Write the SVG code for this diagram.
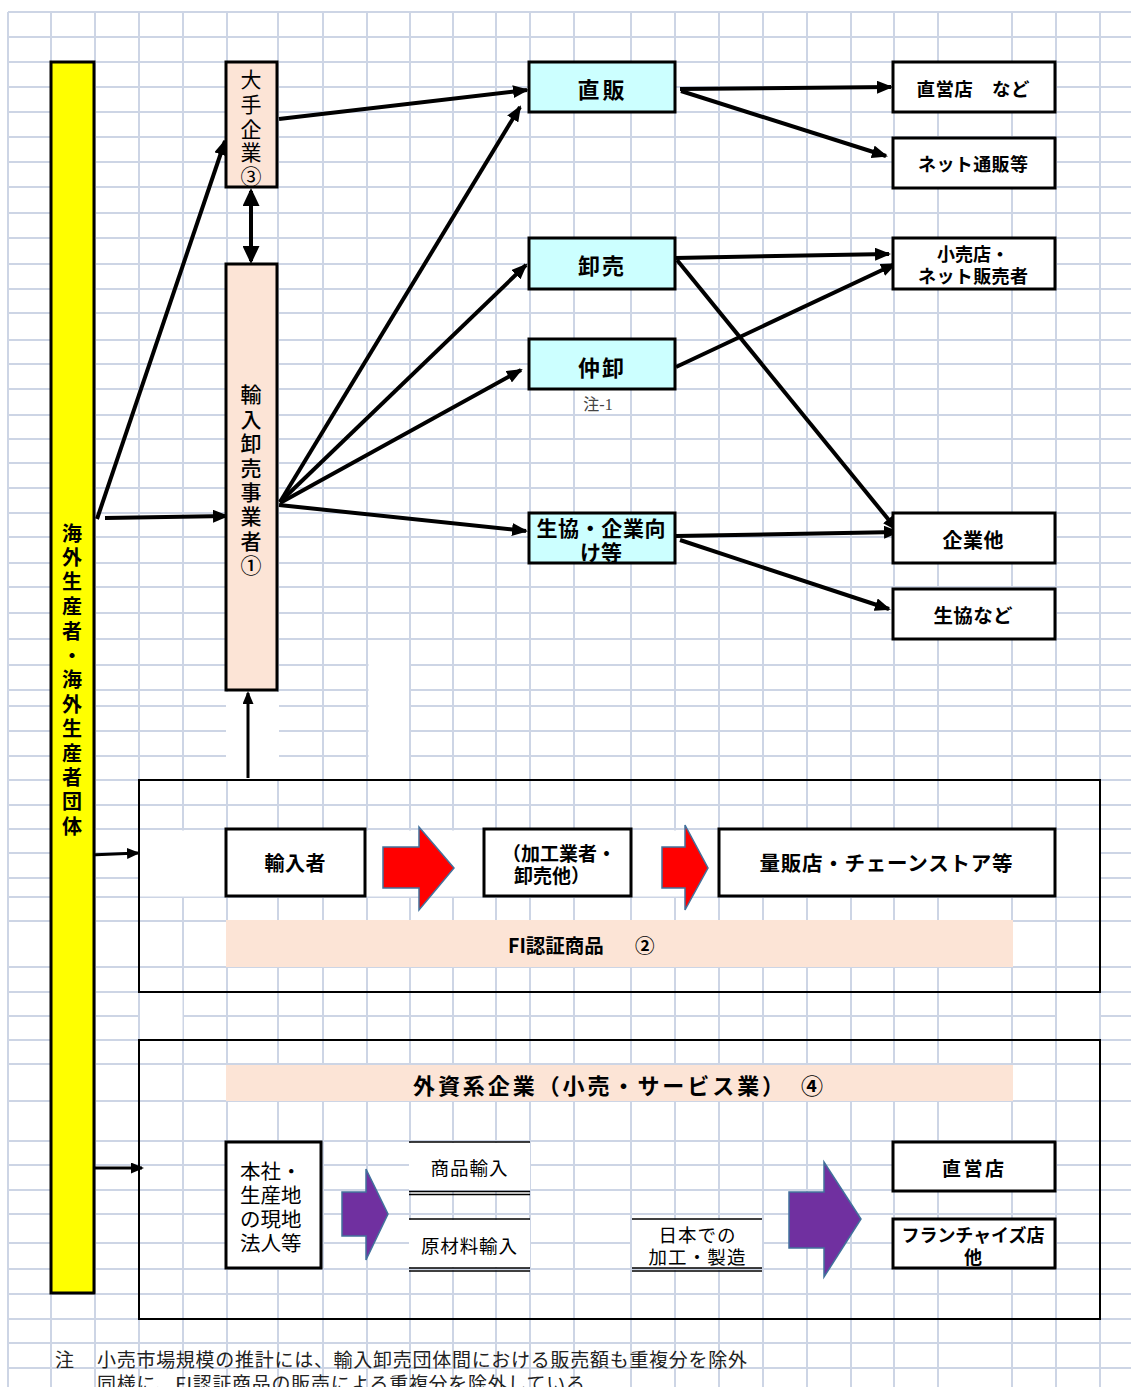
<svg xmlns="http://www.w3.org/2000/svg" width="1131" height="1387" viewBox="0 0 1131 1387">
<defs>
<style>
.grid{stroke:#CDD5E5;stroke-width:2;fill:none}
.box{fill:#fff;stroke:#000;stroke-width:3}
.peach{fill:#FCE4D6;stroke:#000;stroke-width:3}
.cyan{fill:#CCFFFF;stroke:#000;stroke-width:3}
.frame{fill:none;stroke:#000;stroke-width:2}
.band{fill:#FCE4D6;stroke:none}
.t{font-family:"Noto Sans CJK JP","Noto Sans",sans-serif;fill:#000;dominant-baseline:central}
.b{font-weight:700}
.c{text-anchor:middle}
.conn{stroke:#000;stroke-width:4;fill:none}
.conn3{stroke:#000;stroke-width:3;fill:none}
.red{fill:#FF0000;stroke:#41719C;stroke-width:1.5}
.pur{fill:#7030A0;stroke:#41719C;stroke-width:1.5}
.ul{stroke:#000;stroke-width:1.5}
</style>
<marker id="ah" viewBox="0 0 16 13" refX="14" refY="6.5" markerWidth="16" markerHeight="13" markerUnits="userSpaceOnUse" orient="auto-start-reverse"><path d="M0,0 L16,6.5 L0,13 z" fill="#000"/></marker>
<marker id="ahb" viewBox="0 0 18 17" refX="15" refY="8.5" markerWidth="18" markerHeight="17" markerUnits="userSpaceOnUse" orient="auto-start-reverse"><path d="M0,0 L18,8.5 L0,17 z" fill="#000"/></marker>
<marker id="ahs" viewBox="0 0 13 11" refX="11" refY="5.5" markerWidth="13" markerHeight="11" markerUnits="userSpaceOnUse" orient="auto"><path d="M0,0 L13,5.5 L0,11 z" fill="#000"/></marker>
</defs>
<rect x="0" y="0" width="1131" height="1387" fill="#fff"/>
<g id="grid">
<path class="grid" d="M8 12V1387M51 12V1387M95 12V1387M139 12V1387M183 12V1387M227 12V1387M278 12V1387M323 12V1387M367 12V1387M410 12V1387M453 12V1387M496 12V1387M530 12V1387M574 12V1387M631 12V1387M675 12V1387M719 12V1387M763 12V1387M807 12V1387M851 12V1387M894 12V1387M938 12V1387M1012 12V1387M1056 12V1387M1100 12V1387"/>
<path class="grid" d="M8 12H1131M8 37H1131M8 62H1131M8 87H1131M8 112H1131M8 137H1131M8 162H1131M8 187H1131M8 213H1131M8 238H1131M8 264H1131M8 289H1131M8 313H1131M8 340H1131M8 364H1131M8 389H1131M8 415H1131M8 439H1131M8 463H1131M8 488H1131M8 513H1131M8 537H1131M8 563H1131M8 587H1131M8 613H1131M8 639H1131M8 665H1131M8 690H1131M8 706H1131M8 731H1131M8 756H1131M8 780H1131M8 805H1131M8 829H1131M8 853H1131M8 878H1131M8 897H1131M8 921H1131M8 967H1131M8 992H1131M8 1016H1131M8 1040H1131M8 1064H1131M8 1101H1131M8 1141H1131M8 1165H1131M8 1190H1131M8 1214H1131M8 1243H1131M8 1269H1131M8 1294H1131M8 1319H1131M8 1343H1131M8 1368H1131"/>
<g fill="#fff">
<rect x="368.5" y="660" width="40.5" height="119"/>
<rect x="226" y="692" width="53" height="87"/>
<rect x="140" y="830.5" width="959" height="66"/>
<rect x="140" y="993" width="42.5" height="46"/>
<rect x="1057" y="993" width="42" height="46"/>
<rect x="409" y="1143" width="121" height="47"/>
<rect x="409" y="1220" width="121" height="47"/>
<rect x="632" y="1220" width="130" height="47"/>
</g>
</g>

<g id="connectors">
<line class="conn" x1="97" y1="519" x2="225" y2="141" marker-end="url(#ah)"/>
<line class="conn" x1="105" y1="518" x2="227" y2="516" marker-end="url(#ah)"/>
<line class="conn" x1="251" y1="191" x2="251" y2="261" stroke-width="5" marker-start="url(#ahb)" marker-end="url(#ahb)"/>
<line class="conn" x1="279" y1="119" x2="527" y2="90" marker-end="url(#ah)"/>
<line class="conn" x1="280" y1="502" x2="520" y2="107" marker-end="url(#ah)"/>
<line class="conn" x1="280" y1="502" x2="526" y2="265" marker-end="url(#ah)"/>
<line class="conn" x1="280" y1="503" x2="521" y2="370" marker-end="url(#ah)"/>
<line class="conn" x1="279" y1="505" x2="526" y2="531" marker-end="url(#ah)"/>
<line class="conn" x1="680" y1="89" x2="891" y2="87" marker-end="url(#ah)"/>
<line class="conn" x1="681" y1="91" x2="886" y2="156" marker-end="url(#ah)"/>
<line class="conn" x1="675" y1="258" x2="889" y2="254" marker-end="url(#ah)"/>
<line class="conn" x1="677" y1="260" x2="897" y2="530" marker-end="url(#ah)"/>
<line class="conn" x1="676" y1="367" x2="895" y2="264" marker-end="url(#ah)"/>
<line class="conn" x1="676" y1="536" x2="898" y2="532" marker-end="url(#ah)"/>
<line class="conn" x1="680" y1="540" x2="889" y2="609" marker-end="url(#ah)"/>
<line class="conn3" x1="248" y1="778" x2="248" y2="693" marker-end="url(#ahs)"/>
<line class="conn3" x1="90" y1="855" x2="138" y2="853" marker-end="url(#ahs)"/>
<line class="conn3" x1="95" y1="1168" x2="142" y2="1168" marker-end="url(#ahs)"/>
</g>

<g id="producers">
<rect x="51" y="62" width="43" height="1231" fill="#FFFF00" stroke="#000" stroke-width="3"/>
<text class="t b c" font-size="20"><tspan x="72" y="532">海</tspan><tspan x="72" y="556">外</tspan><tspan x="72" y="580">生</tspan><tspan x="72" y="605">産</tspan><tspan x="72" y="630">者</tspan><tspan x="72" y="654">・</tspan><tspan x="72" y="678">海</tspan><tspan x="72" y="703">外</tspan><tspan x="72" y="727">生</tspan><tspan x="72" y="752">産</tspan><tspan x="72" y="776">者</tspan><tspan x="72" y="800">団</tspan><tspan x="72" y="825">体</tspan></text>
</g>

<g id="major-companies">
<rect class="peach" x="226" y="62" width="51" height="125"/>
<text class="t c" font-size="21"><tspan x="251" y="78">大</tspan><tspan x="251" y="103">手</tspan><tspan x="251" y="128">企</tspan><tspan x="251" y="151">業</tspan><tspan x="251" y="175">③</tspan></text>
</g>

<g id="import-wholesalers">
<rect class="peach" x="226" y="264" width="51" height="426"/>
<text class="t c" font-size="21" style="font-weight:500"><tspan x="251" y="393">輸</tspan><tspan x="251" y="418">入</tspan><tspan x="251" y="442">卸</tspan><tspan x="251" y="467">売</tspan><tspan x="251" y="491">事</tspan><tspan x="251" y="515">業</tspan><tspan x="251" y="540">者</tspan><tspan x="251" y="564">①</tspan></text>
</g>

<g id="direct-sales">
<rect class="cyan" x="529" y="62" width="146" height="50"/>
<text class="t b c" font-size="22" x="601" y="88" textLength="47" lengthAdjust="spacing">直販</text>
</g>
<g id="wholesale">
<rect class="cyan" x="529" y="238" width="146" height="51"/>
<text class="t b c" font-size="22" x="601" y="264" textLength="46" lengthAdjust="spacing">卸売</text>
</g>
<g id="middle-wholesale">
<rect class="cyan" x="529" y="339" width="146" height="50"/>
<text class="t b c" font-size="22" x="601" y="366" textLength="46" lengthAdjust="spacing">仲卸</text>
<text class="t c" font-size="16" x="598" y="404" style="fill:#444;font-family:'Liberation Serif','Noto Sans CJK JP',serif">注-1</text>
</g>
<g id="coop-corporate">
<rect class="cyan" x="529" y="513" width="146" height="50"/>
<text class="t b c" font-size="21" x="601" y="527" textLength="129" lengthAdjust="spacing">生協・企業向</text>
<text class="t b c" font-size="21" x="601" y="551">け等</text>
</g>

<g id="own-stores">
<rect class="box" x="893" y="62" width="162" height="50"/>
<text class="t b c" font-size="18.5" x="973" y="88" textLength="113" lengthAdjust="spacing">直営店　など</text>
</g>
<g id="online-mail-order">
<rect class="box" x="893" y="138" width="162" height="50"/>
<text class="t b c" font-size="18" x="973" y="163" textLength="110" lengthAdjust="spacing">ネット通販等</text>
</g>
<g id="retail-online">
<rect class="box" x="893" y="238" width="162" height="51"/>
<text class="t b c" font-size="18" x="973" y="253">小売店・</text>
<text class="t b c" font-size="18" x="973" y="275" textLength="110" lengthAdjust="spacing">ネット販売者</text>
</g>
<g id="companies-other">
<rect class="box" x="893" y="513" width="162" height="50"/>
<text class="t b c" font-size="20" x="973" y="539" textLength="61" lengthAdjust="spacing">企業他</text>
</g>
<g id="coops">
<rect class="box" x="893" y="589" width="162" height="50"/>
<text class="t b c" font-size="19.5" x="973" y="614" textLength="79" lengthAdjust="spacing">生協など</text>
</g>

<g id="fi-section">
<rect class="frame" x="139" y="780" width="961" height="212"/>
<rect class="band" x="226" y="920" width="787" height="47"/>
<text class="t b" font-size="19.5" x="508" y="944">FI認証商品</text>
<text class="t b" font-size="19.5" x="635" y="944">②</text>
</g>
<g id="importer">
<rect class="box" x="226" y="829" width="139" height="67"/>
<text class="t b c" font-size="20" x="295" y="862" textLength="61" lengthAdjust="spacing">輸入者</text>
</g>
<polygon class="red" points="383,847 419,847 419,827 454,868 419,910 419,888 383,888"/>
<g id="processors">
<rect class="box" x="484" y="829" width="147" height="67"/>
<text class="t b c" font-size="19" x="559" y="852" textLength="114" lengthAdjust="spacing">（加工業者・</text>
<text class="t b c" font-size="19" x="552" y="874">卸売他）</text>
</g>
<polygon class="red" points="662,847 685,847 685,825 708,868 685,910 685,888 662,888"/>
<g id="mass-retailers">
<rect class="box" x="719" y="829" width="336" height="67"/>
<text class="t b c" font-size="20.5" x="886" y="862" textLength="253" lengthAdjust="spacing">量販店・チェーンストア等</text>
</g>

<g id="foreign-section">
<rect class="frame" x="139" y="1040" width="961" height="279"/>
<rect class="band" x="226" y="1065" width="787" height="36"/>
<text class="t b c" font-size="22" x="618" y="1084" textLength="410" lengthAdjust="spacing">外資系企業（小売・サービス業）　④</text>
</g>
<g id="headquarters">
<rect class="box" x="226" y="1142" width="95" height="126"/>
<text class="t" font-size="20.5"><tspan x="240" y="1170">本社・</tspan><tspan x="240" y="1194">生産地</tspan><tspan x="240" y="1218">の現地</tspan><tspan x="240" y="1242">法人等</tspan></text>
</g>
<polygon class="pur" points="342,1192 366,1192 366,1169 388,1214 366,1260 366,1236 342,1236"/>
<g id="product-import">
<line class="ul" x1="409" y1="1142" x2="530" y2="1142"/>
<text class="t c" font-size="18.5" x="469" y="1167" textLength="77" lengthAdjust="spacing">商品輸入</text>
<line class="ul" x1="409" y1="1191.5" x2="530" y2="1191.5"/>
<line class="ul" x1="409" y1="1194.5" x2="530" y2="1194.5"/>
</g>
<g id="material-import">
<line class="ul" x1="409" y1="1219" x2="530" y2="1219"/>
<text class="t c" font-size="18.5" x="469" y="1245" textLength="96" lengthAdjust="spacing">原材料輸入</text>
<line class="ul" x1="409" y1="1268" x2="530" y2="1268"/>
<line class="ul" x1="409" y1="1271" x2="530" y2="1271"/>
</g>
<g id="japan-processing">
<line class="ul" x1="632" y1="1219" x2="762" y2="1219"/>
<text class="t c" font-size="18.5" x="697" y="1234" textLength="77" lengthAdjust="spacing">日本での</text>
<text class="t c" font-size="18.5" x="697" y="1256" textLength="97" lengthAdjust="spacing">加工・製造</text>
<line class="ul" x1="632" y1="1268" x2="762" y2="1268"/>
<line class="ul" x1="632" y1="1271" x2="762" y2="1271"/>
</g>
<polygon class="pur" points="789,1192 824,1192 824,1162 861,1219 824,1277 824,1248 789,1248"/>
<g id="foreign-own-stores">
<rect class="box" x="893" y="1142" width="162" height="49"/>
<text class="t b c" font-size="19" x="973" y="1167" textLength="62" lengthAdjust="spacing">直営店</text>
</g>
<g id="franchise">
<rect class="box" x="893" y="1219" width="162" height="49"/>
<text class="t b c" font-size="18" x="973" y="1234" textLength="143" lengthAdjust="spacing">フランチャイズ店</text>
<text class="t b c" font-size="18" x="973" y="1256">他</text>
</g>

<g id="footnote">
<text class="t" font-size="19" x="55" y="1358" style="fill:#222">注</text>
<text class="t" font-size="19" x="97" y="1358" textLength="650" lengthAdjust="spacing" style="fill:#222">小売市場規模の推計には、輸入卸売団体間における販売額も重複分を除外</text>
<text class="t" font-size="19" x="97" y="1382" textLength="488" lengthAdjust="spacing" style="fill:#222">同様に、FI認証商品の販売による重複分を除外している</text>
</g>
</svg>
